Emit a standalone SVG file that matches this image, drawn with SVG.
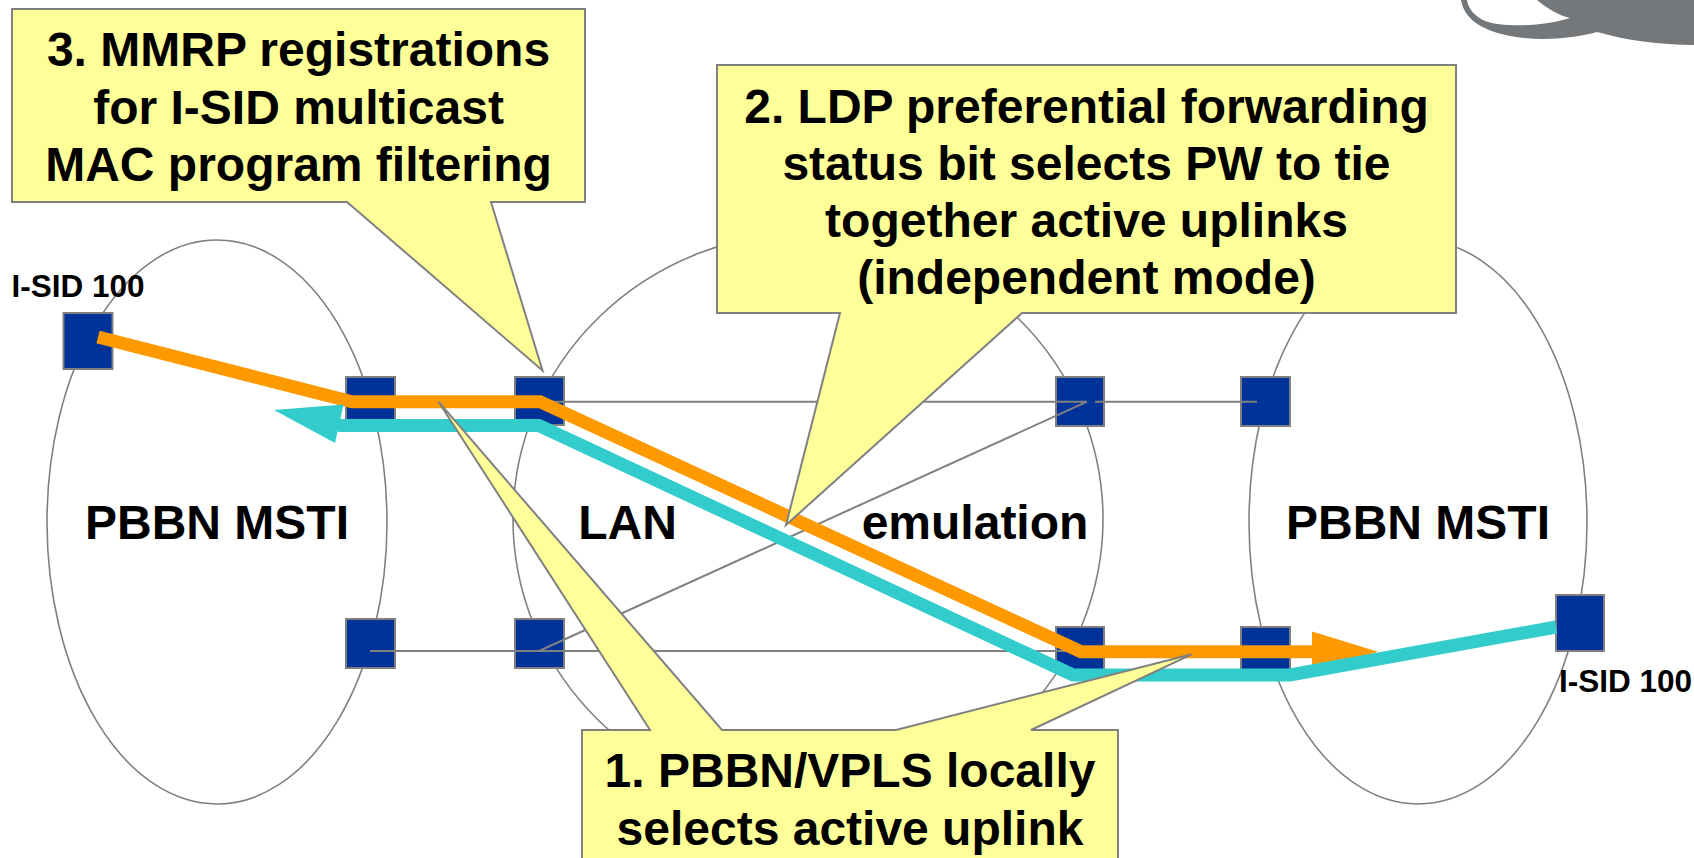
<svg xmlns="http://www.w3.org/2000/svg" width="1694" height="858" viewBox="0 0 1694 858">
<style>
.ell{fill:none;stroke:#808080;stroke-width:1.6}
.sq{fill:#003399;stroke:#808080;stroke-width:2}
.ln{stroke:#808080;stroke-width:2;fill:none}
.call{fill:#FFFF99;stroke:#808080;stroke-width:2;stroke-linejoin:miter}
.t{font-family:"Liberation Sans",Arial,sans-serif;font-weight:bold;fill:#000;text-anchor:middle}
.big{font-size:48px}
.sm{font-size:31.5px}
</style>
<rect width="1694" height="858" fill="#fff"/>
<path id="logo" fill="#75787B" d="M1461,0 C1464,18 1480,30 1510,36 C1540,42 1575,38 1597,32 C1625,40 1660,45 1694,45 L1694,0 L1537,0 C1548,9 1558,15 1570,18 C1545,26 1505,28 1485,21 C1474,16 1468,8 1467,0 Z"/>
<g id="domains">
<ellipse id="left-msti" class="ell" cx="217" cy="522" rx="170" ry="282"/>
<ellipse id="lan-emulation" class="ell" cx="808" cy="519" rx="295" ry="286"/>
<ellipse id="right-msti" class="ell" cx="1418" cy="522" rx="169" ry="282"/>
</g>
<g id="nodes">
<rect id="isid-left" class="sq" x="63.5" y="313" width="49" height="56"/>
<rect id="l-top" class="sq" x="346" y="377" width="49" height="48"/>
<rect id="lan-top" class="sq" x="515" y="377" width="49" height="48"/>
<rect id="l-bot" class="sq" x="346" y="619" width="49" height="49"/>
<rect id="lan-bot" class="sq" x="515" y="619" width="49" height="49"/>
<rect id="e-top" class="sq" x="1056" y="377" width="48" height="49"/>
<rect id="r-top" class="sq" x="1241" y="377" width="49" height="49"/>
<rect id="e-bot" class="sq" x="1056" y="627" width="48" height="45"/>
<rect id="r-bot" class="sq" x="1241" y="627" width="49" height="45"/>
<rect id="isid-right" class="sq" x="1556" y="595" width="48" height="56"/>
</g>
<g id="connectors">
<line class="ln" x1="370" y1="651" x2="1265" y2="651"/>
<line class="ln" x1="539" y1="401.7" x2="1087" y2="401.7"/>
<line class="ln" x1="1095" y1="401.7" x2="1257" y2="401.7"/>
<line class="ln" x1="539" y1="651" x2="1087" y2="401.7"/>
<g id="orange-path">
<polyline points="98,337 352,401.7 540,401.7 1081,651.7 1314,651.7" fill="none" stroke="#FF9900" stroke-width="13" stroke-linejoin="miter"/>
<polygon points="1312,631.5 1378,651.7 1312,672" fill="#FF9900"/>
</g>
<g id="cyan-path">
<polyline points="338,425.5 539,425.5 1073,675 1290,675 1556,627" fill="none" stroke="#33CCCC" stroke-width="13" stroke-linejoin="miter"/>
<polygon points="274,410 343.5,404.5 335,443" fill="#33CCCC"/>
</g>
</g>
<g id="labels">
<text class="t sm" x="78" y="296.5">I-SID 100</text>
<text class="t sm" x="1625.5" y="691.5">I-SID 100</text>
<text class="t big" x="217" y="539">PBBN MSTI</text>
<text class="t big" x="627.5" y="539">LAN</text>
<text class="t big" x="975" y="539">emulation</text>
<text class="t big" x="1418" y="539">PBBN MSTI</text>
</g>
<g id="callout-3">
<path class="call" d="M12,9 H585 V202 H491 L542.5,370.5 L347,202 H12 Z"/>
<text class="t big" x="298.5" y="66">3. MMRP registrations</text>
<text class="t big" x="298.5" y="124">for I-SID multicast</text>
<text class="t big" x="298.5" y="181">MAC program filtering</text>
</g>
<g id="callout-2">
<path class="call" d="M717,65 H1456 V313 H1022 L786,525 L840,313 H717 Z"/>
<text class="t big" x="1086.5" y="123">2. LDP preferential forwarding</text>
<text class="t big" x="1086.5" y="180">status bit selects PW to tie</text>
<text class="t big" x="1086.5" y="237">together active uplinks</text>
<text class="t big" x="1086.5" y="294">(independent mode)</text>
</g>
<g id="callout-1">
<path class="call" d="M582,730 H650 L438.5,401.7 L722,730 H896 L1191.7,654.3 L1031,730 H1118 V870 H582 Z"/>
<text class="t big" x="850" y="787">1. PBBN/VPLS locally</text>
<text class="t big" x="850" y="845">selects active uplink</text>
</g>
</svg>
